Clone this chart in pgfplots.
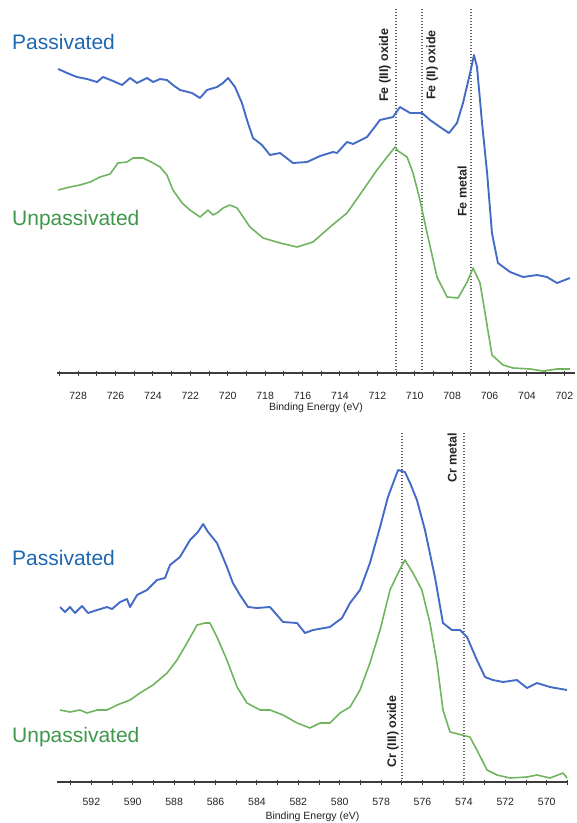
\documentclass[border=0pt]{standalone}
\usepackage{fontspec}
\setmainfont{Liberation Sans}
\usepackage{pgfplots}
\pgfplotsset{compat=1.18}
\definecolor{cblue}{RGB}{68,108,198}
\definecolor{cgreen}{RGB}{112,180,96}
\definecolor{tblue}{RGB}{30,104,178}
\definecolor{tgreen}{RGB}{62,152,74}
\definecolor{axgray}{RGB}{60,60,60}
\definecolor{dgray}{RGB}{95,95,95}
\definecolor{lblgray}{RGB}{35,35,35}
\tikzset{
  vlab/.style={rotate=90, anchor=west, inner sep=0pt, font=\bfseries\fontsize{12.5}{14}\selectfont, text=lblgray},
  vline/.style={dgray, line width=1.5pt, dash pattern=on 1.5pt off 1.5pt},
  bl/.style={cblue, line width=1.9pt, line join=round},
  gr/.style={cgreen, line width=1.6pt, line join=round},
}
\pgfplotsset{
  xpsstyle/.style={
    scale only axis, x dir=reverse,
    axis x line*=bottom, axis y line=none,
    axis line style={-, axgray, line width=1.1pt},
    xtick align=center, major tick length=5pt, minor tick length=5pt,
    tick style={axgray, line width=0.9pt},
    ytick=\empty,
    /pgf/number format/assume math mode=true,
    /pgf/number format/1000 sep={},
    xticklabel style={font=\fontsize{10.5}{12}\selectfont, text=lblgray, anchor=center},
    xlabel style={font=\fontsize{10.5}{12}\selectfont, text=lblgray, at={(axis description cs:0.5,0)}, anchor=center},
    clip=false,
    ymin=0,
  },
}
\begin{document}
\begin{tikzpicture}
\useasboundingbox (0pt,0pt) rectangle (577pt,-823pt);
% ---------------- Fe 2p ----------------
\begin{axis}[xpsstyle, at={(57pt,-373pt)}, anchor=south west,
  width=518pt, height=365pt, xmin=701.43, xmax=729.13, ymax=365,
  xtick={702,704,...,728}, minor xtick={703,705,...,729},
  xticklabel style={yshift=-20pt},
  xlabel={Binding Energy (eV)}, xlabel style={yshift=-35pt}]
\addplot[vline, forget plot] coordinates {(711,0) (711,365)};
\addplot[vline, forget plot] coordinates {(709.6,0) (709.6,365)};
\addplot[vline, forget plot] coordinates {(707,0) (707,365)};
% Passivated
\addplot[bl] coordinates {
(729.07,304) (728.59,300) (728.06,296) (727.52,294) (726.99,291) (726.67,296)
(726.13,292) (725.65,288) (725.22,295) (724.85,290) (724.32,295) (723.99,291)
(723.62,294) (723.25,293) (722.93,288) (722.55,283) (721.91,280) (721.48,275)
(721.11,283) (720.57,286) (720.25,290) (719.98,295) (719.61,286) (719.24,270)
(718.97,253) (718.65,235) (718.17,228) (717.74,218) (717.20,220) (716.51,210)
(715.76,211) (715.06,217) (714.37,221) (714.16,220) (713.62,231) (713.30,229)
(712.55,236) (711.86,253) (711.16,256) (710.79,266) (710.25,260) (709.61,260)
(709.18,253) (708.65,246) (708.17,240) (707.74,250) (707.42,270) (707.04,300)
(706.83,318) (706.67,306) (706.40,250) (706.13,200) (705.87,140) (705.55,110)
(704.90,101) (704.21,96) (703.46,98) (702.93,96) (702.39,90) (701.70,95)};
% Unpassivated
\addplot[gr] coordinates {
(729.07,183) (728.43,186) (727.90,188) (727.36,191) (726.83,196) (726.29,199)
(725.87,210) (725.39,211) (725.06,215) (724.53,215) (723.99,210) (723.62,206)
(723.25,198) (722.93,183) (722.44,170) (722.02,163) (721.48,156) (721.05,163)
(720.79,158) (720.57,160) (720.25,165) (719.88,168) (719.50,165) (718.81,146)
(718.11,135) (717.20,130) (716.29,126) (715.44,131) (714.53,146) (713.62,160)
(712.76,183) (712.02,203) (711.48,216) (711.05,226) (710.89,222) (710.41,216)
(710.09,200) (709.72,173) (709.34,140) (708.81,96) (708.27,76) (707.68,75)
(707.20,91) (706.88,105) (706.51,90) (706.24,60) (705.87,18) (705.28,8)
(704.74,5) (703.83,4) (703.14,2) (702.39,4) (701.70,4)};
\node[vlab] at (axis cs:711.59,271) {Fe (III) oxide};
\node[vlab] at (axis cs:709.07,273) {Fe (II) oxide};
\node[vlab] at (axis cs:707.47,156) {Fe metal};
\end{axis}
% ---------------- Cr 2p ----------------
\begin{axis}[xpsstyle, at={(57pt,-782pt)}, anchor=south west,
  width=511pt, height=350pt, xmin=568.97, xmax=593.66, ymax=350,
  xtick={570,572,...,592}, minor xtick={569,571,...,593},
  xticklabel style={yshift=-17pt},
  xlabel={Binding Energy (eV)}, xlabel style={yshift=-35pt}]
\addplot[vline, forget plot] coordinates {(577,0) (577,350)};
\addplot[vline, forget plot] coordinates {(574,0) (574,350)};
\addplot[bl] coordinates {
(593.51,175) (593.27,170) (593.03,175) (592.79,169) (592.45,176) (592.16,169)
(591.72,172) (591.24,175) (591.00,173) (590.61,180) (590.28,183) (590.13,175)
(589.79,187) (589.31,192) (588.83,202) (588.44,204) (588.20,217) (587.72,225)
(587.23,242) (586.85,250) (586.60,258) (586.36,250) (585.93,239) (585.45,215)
(585.16,199) (584.82,187) (584.43,175) (584.00,174) (583.37,175) (582.74,160)
(582.06,159) (581.68,149) (581.29,152) (580.47,155) (579.89,164) (579.50,179)
(579.02,192) (578.54,219) (578.05,255) (577.67,285) (577.18,312) (576.85,310)
(576.60,299) (576.27,282) (575.88,252) (575.40,205) (575.01,159) (574.58,152)
(574.19,152) (573.85,145) (573.37,122) (572.98,105) (572.60,102) (572.11,100)
(571.44,102) (570.95,94) (570.47,99) (569.84,95) (569.02,92)};
\addplot[gr] coordinates {
(593.51,72) (593.03,70) (592.55,72) (592.21,69) (591.72,72) (591.24,72)
(590.76,77) (590.13,82) (589.65,89) (589.02,97) (588.34,109) (587.86,122)
(587.38,139) (586.89,157) (586.51,159) (586.27,159) (585.93,145) (585.45,122)
(584.96,95) (584.48,79) (583.85,72) (583.37,72) (582.74,67) (582.06,59)
(581.44,54) (580.95,59) (580.47,59) (579.99,69) (579.50,75) (579.02,92)
(578.54,119) (578.05,152) (577.57,192) (577.18,209) (576.85,222) (576.46,209)
(576.03,192) (575.64,159) (575.30,119) (575.01,72) (574.67,50) (574.09,47)
(573.71,45) (573.37,32) (572.88,12) (572.40,7) (571.77,4) (570.95,5)
(570.47,7) (569.84,4) (569.21,9) (569.02,4)};
\node[vlab] at (axis cs:577.43,14) {Cr (III) oxide};
\node[vlab] at (axis cs:574.57,299) {Cr metal};
\end{axis}
% series names
\node[anchor=base west, inner sep=0pt, text=tblue, font=\fontsize{21}{24}\selectfont] at (12pt,-49pt) {Passivated};
\node[anchor=base west, inner sep=0pt, text=tgreen, font=\fontsize{21}{24}\selectfont] at (12pt,-225pt) {Unpassivated};
\node[anchor=base west, inner sep=0pt, text=tblue, font=\fontsize{21}{24}\selectfont] at (12pt,-565pt) {Passivated};
\node[anchor=base west, inner sep=0pt, text=tgreen, font=\fontsize{21}{24}\selectfont] at (12pt,-742pt) {Unpassivated};
\end{tikzpicture}
\end{document}
